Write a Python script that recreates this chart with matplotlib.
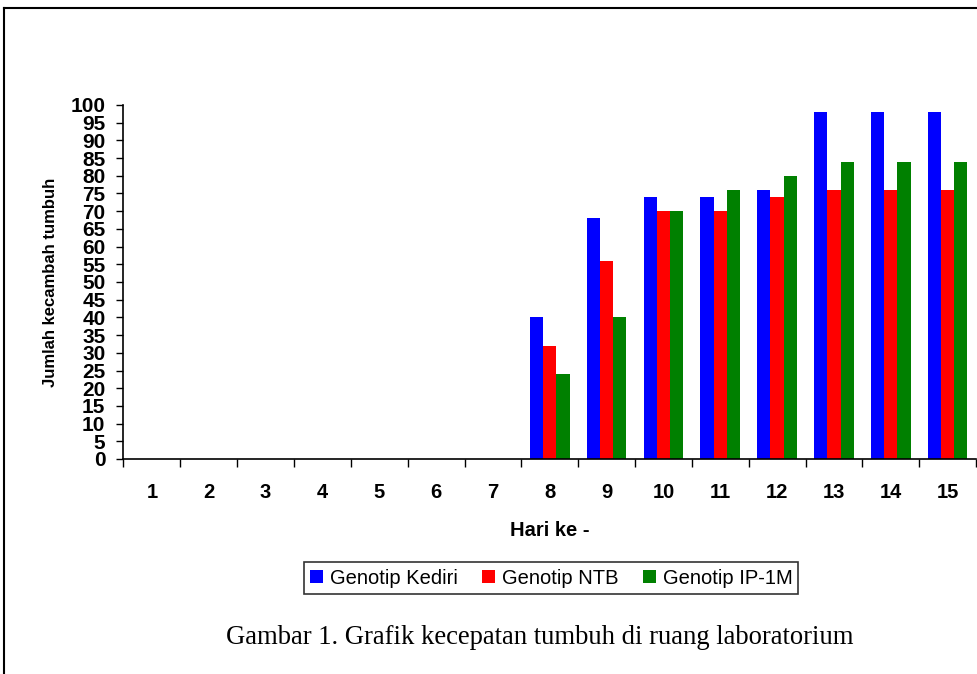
import matplotlib
matplotlib.use("Agg")
import matplotlib.pyplot as plt
import numpy as np
from matplotlib.lines import Line2D

days = [str(i) for i in range(1, 16)]
kediri = [0, 0, 0, 0, 0, 0, 0, 40, 68, 74, 74, 76, 98, 98, 98]
ntb    = [0, 0, 0, 0, 0, 0, 0, 32, 56, 70, 70, 74, 76, 76, 76]
ip1m   = [0, 0, 0, 0, 0, 0, 0, 24, 40, 70, 76, 80, 84, 84, 84]
series_names = ["Genotip Kediri", "Genotip NTB", "Genotip IP-1M"]
colors = ["#0000FF", "#FF0000", "#008000"]
yticks = list(range(0, 101, 5))

plt.rcParams['font.family'] = ['Liberation Sans', 'DejaVu Sans']

fig = plt.figure(figsize=(9.77, 6.74), dpi=100)
W, H = 977, 674
ax = fig.add_axes([123.5 / W, (H - 459) / H, (976 - 123.5) / W, (459 - 105) / H])

x = np.arange(len(days))
bw = 0.233
for i, (vals, name, c) in enumerate(zip([kediri, ntb, ip1m], series_names, colors)):
    ax.bar(x + (i - 1) * bw, vals, width=bw, color=c, label=name, edgecolor='none')

ax.set_xlim(-0.5, len(days) - 0.5)
ax.set_ylim(0, 100)
ax.set_yticks(yticks)
ax.set_yticklabels([str(v) for v in yticks], fontsize=15, fontweight='bold')
ax.set_xticks(x)
ax.set_xticklabels(days, fontsize=14.5, fontweight='bold')
ax.tick_params(axis='x', length=0, pad=17)
ax.tick_params(axis='y', length=5, width=1, pad=8, direction='out')
# boundary ticks on x
ax.set_xticks(np.arange(-0.5, len(days) + 0.5, 1), minor=True)
ax.tick_params(axis='x', which='minor', length=6, width=1, direction='out')

for s in ['top', 'right']:
    ax.spines[s].set_visible(False)
for s in ['left', 'bottom']:
    ax.spines[s].set_linewidth(1.2)

ax.set_xlabel("Hari ke -", fontsize=14.5, fontweight='bold', labelpad=14)
ax.set_ylabel("Jumlah kecambah tumbuh", fontsize=12, fontweight='bold', labelpad=9)

leg = fig.legend(loc='center', bbox_to_anchor=(551 / W, (H - 578) / H), ncol=3,
                 fontsize=14.5, frameon=True, fancybox=False, handlelength=0.65,
                 handleheight=0.65, handletextpad=0.35, columnspacing=1.2,
                 borderpad=0.3, borderaxespad=0, edgecolor='black')
leg.get_frame().set_linewidth(1.2)

fig.text(540 / W, (H - 638) / H, "Gambar 1. Grafik kecepatan tumbuh di ruang laboratorium",
         ha='center', va='center', fontsize=19.2, family='Liberation Serif')

# outer frame
fig.add_artist(Line2D([4 / W, 4 / W], [0, (H - 8) / H], color='black', lw=1.5, transform=fig.transFigure))
fig.add_artist(Line2D([4 / W, 1], [(H - 8) / H, (H - 8) / H], color='black', lw=1.5, transform=fig.transFigure))

fig.savefig("out.png", dpi=100)
